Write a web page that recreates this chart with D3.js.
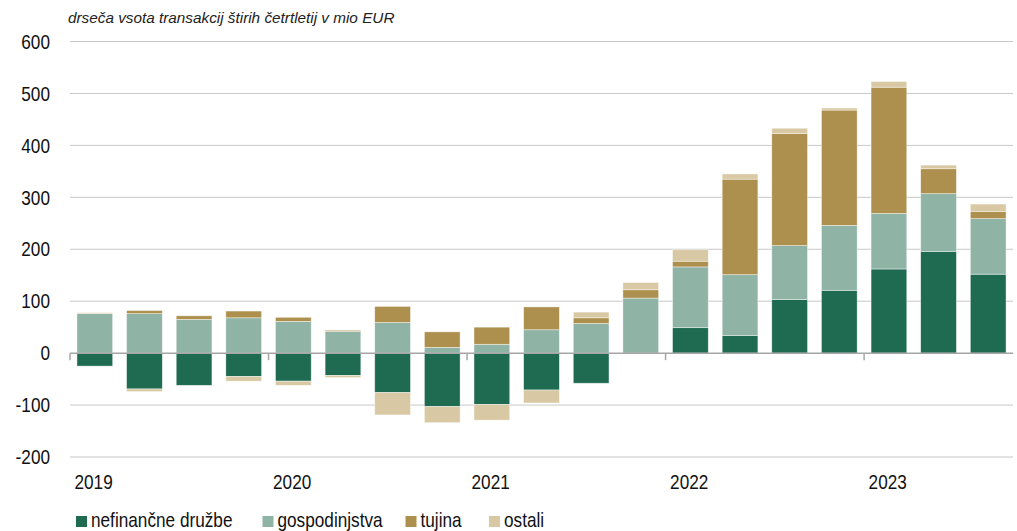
<!DOCTYPE html>
<html>
<head>
<meta charset="utf-8">
<script src="https://cdn.jsdelivr.net/npm/d3@7"></script>
<style>
  html, body { margin: 0; padding: 0; background: #fff; }
  svg { display: block; font-family: "Liberation Sans", Arial, sans-serif; }
</style>
</head>
<body>
<svg id="chart" width="1017" height="531"></svg>
<script>
// podatki (drseča vsota štirih četrtletij, mio EUR)
const quarters = ["2019Q1","2019Q2","2019Q3","2019Q4","2020Q1","2020Q2","2020Q3","2020Q4",
  "2021Q1","2021Q2","2021Q3","2021Q4","2022Q1","2022Q2","2022Q3","2022Q4","2023Q1","2023Q2","2023Q3"];
const years = ["2019","2020","2021","2022","2023"];
const nefinancne = [-25,-69,-62,-45,-54,-43,-76,-103,-99,-71,-58,0,49,34,103,121,162,196,152];
const gospodinjstva = [76,76,65,68,61,42,59,11,17,45,57,106,117,117,104,125,107,111,107];
const tujina = [0,6,7,13,8,2,31,30,33,44,11,16,11,184,216,222,243,48,14];
const ostali = [2,-5,1,-9,-8,-4,-43,-31,-30,-25,11,14,22,10,10,4,11,7,14];
const yTicks = [-200,-100,0,100,200,300,400,500,600];

const series = [
  { key: "nef", label: "nefinančne družbe", color: "#1f6b52", values: nefinancne },
  { key: "gosp", label: "gospodinjstva", color: "#8fb4a6", values: gospodinjstva },
  { key: "tuj", label: "tujina", color: "#ae904e", values: tujina },
  { key: "ost", label: "ostali", color: "#d8c9a4", values: ostali }
];

const svg = d3.select("#chart");
const plotLeft = 70, plotRight = 1013, plotTop = 41.5, plotBottom = 457;
const squeeze = 0.86; // ozka pisava (Arial Narrow) ni na voljo

const x = d3.scaleBand().domain(quarters).range([plotLeft, plotRight]).paddingInner(0.28).paddingOuter(0.14);
const y = d3.scaleLinear().domain([-200, 600]).range([plotBottom, plotTop]);

// tabela za stack
const rows = quarters.map((q, i) => {
  const r = { q };
  series.forEach(s => r[s.key] = s.values[i]);
  return r;
});
const stacked = d3.stack().keys(series.map(s => s.key)).offset(d3.stackOffsetDiverging)(rows);

// naslov
svg.append("text")
  .attr("x", 68).attr("y", 23)
  .attr("font-size", 15.3).attr("font-style", "italic").attr("fill", "#222")
  .text("drseča vsota transakcij štirih četrtletij v mio EUR");

// mreža
svg.append("g").selectAll("line")
  .data(yTicks.filter(d => d !== 0))
  .enter().append("line")
  .attr("x1", plotLeft).attr("x2", plotRight)
  .attr("y1", d => y(d)).attr("y2", d => y(d))
  .attr("stroke", "#c8c8c8").attr("stroke-width", 1);

// oznake osi y
svg.append("g").selectAll("text")
  .data(yTicks)
  .enter().append("text")
  .attr("transform", d => `translate(50,${y(d)}) scale(${squeeze},1)`)
  .attr("dy", "0.36em")
  .attr("text-anchor", "end")
  .attr("font-size", 20).attr("fill", "#111")
  .text(d => d);

// stolpci
svg.append("g").selectAll("g")
  .data(stacked)
  .enter().append("g")
  .attr("fill", (d, i) => series[i].color)
  .selectAll("rect")
  .data(d => d)
  .enter().append("rect")
  .attr("x", d => x(d.data.q))
  .attr("width", x.bandwidth())
  .attr("y", d => y(Math.max(d[0], d[1])))
  .attr("height", d => Math.abs(y(d[0]) - y(d[1])))
  .attr("stroke", "#fff").attr("stroke-width", 0.7).attr("stroke-opacity", 0.6);

// ničelna črta in ločila let
svg.append("line")
  .attr("x1", plotLeft).attr("x2", plotRight)
  .attr("y1", y(0)).attr("y2", y(0))
  .attr("stroke", "#a6a6a6").attr("stroke-width", 1.5);

const yearStarts = years.map((yr, i) => x(quarters[i * 4]) - x.step() * x.paddingOuter());
svg.append("g").selectAll("line")
  .data(yearStarts)
  .enter().append("line")
  .attr("x1", d => d).attr("x2", d => d)
  .attr("y1", y(0)).attr("y2", y(0) + 7)
  .attr("stroke", "#a6a6a6").attr("stroke-width", 1.5);

svg.append("g").selectAll("text")
  .data(years)
  .enter().append("text")
  .attr("transform", (d, i) => `translate(${yearStarts[i] + 4.5},489) scale(${squeeze},1)`)
  .attr("font-size", 20).attr("fill", "#111")
  .text(d => d);

// legenda
const legendX = [76, 262.5, 405.5, 489];
const legend = svg.append("g").selectAll("g")
  .data(series)
  .enter().append("g")
  .attr("transform", (d, i) => `translate(${legendX[i]},0)`);
legend.append("rect")
  .attr("x", 0).attr("y", 516).attr("width", 11).attr("height", 11)
  .attr("fill", d => d.color);
legend.append("text")
  .attr("transform", `translate(15,527) scale(${squeeze},1)`)
  .attr("font-size", 20).attr("fill", "#111")
  .text(d => d.label);
</script>
</body>
</html>
